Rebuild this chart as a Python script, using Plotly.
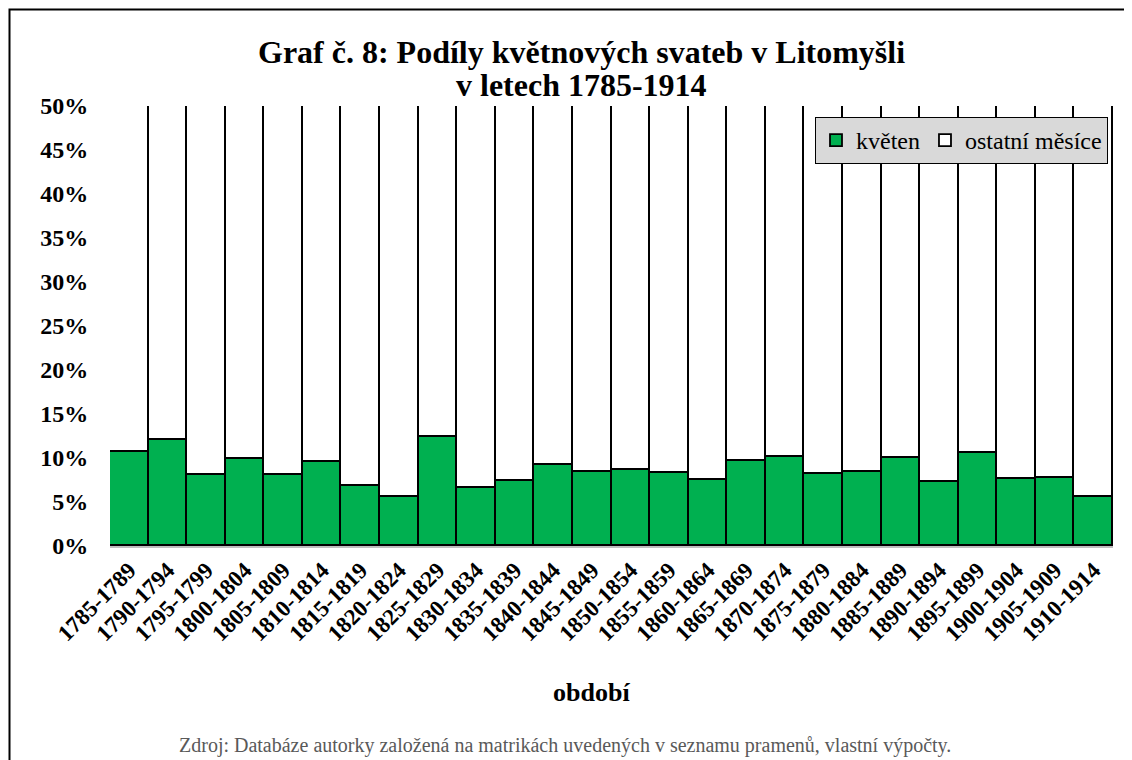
import plotly.graph_objects as go

periods = ["1785-1789", "1790-1794", "1795-1799", "1800-1804", "1805-1809", "1810-1814",
           "1815-1819", "1820-1824", "1825-1829", "1830-1834", "1835-1839", "1840-1844",
           "1845-1849", "1850-1854", "1855-1859", "1860-1864", "1865-1869", "1870-1874",
           "1875-1879", "1880-1884", "1885-1889", "1890-1894", "1895-1899", "1900-1904",
           "1905-1909", "1910-1914"]
kveten = [10.7, 12.0, 8.1, 9.9, 8.1, 9.5, 6.85, 5.55, 12.35, 6.55, 7.35, 9.25, 8.45,
          8.65, 8.35, 7.5, 9.7, 10.1, 8.2, 8.45, 10.0, 7.25, 10.55, 7.6, 7.75, 5.55]
ostatni = [89.3, 88.0, 91.9, 90.1, 91.9, 90.5, 93.15, 94.45, 87.65, 93.45, 92.65, 90.75, 91.55,
           91.35, 91.65, 92.5, 90.3, 89.9, 91.8, 91.55, 90.0, 92.75, 89.45, 92.4, 92.25, 94.45]
yticks = [0, 5, 10, 15, 20, 25, 30, 35, 40, 45, 50]

FONT = "Liberation Serif"
W, H = 1132, 760
# page is offset by the 8px body margin; positions below are in figure pixels
L, R, T, B = 102, 27, 98, 222
PW, PH = W - L - R, H - T - B

def px_x(x):
    return (x - L) / PW

def px_y(y):
    return (H - B - y) / PH

fig = go.Figure()
fig.add_trace(go.Bar(
    x=periods, y=kveten, name="květen",
    marker=dict(color="#00B050", line=dict(color="black", width=1.8)),
))
fig.add_trace(go.Bar(
    x=periods, y=ostatni, name="ostatní měsíce",
    marker=dict(color="white", line=dict(color="black", width=1.8)),
))

fig.update_layout(
    width=W, height=H,
    margin=dict(l=L, r=R, t=T, b=B),
    barmode="stack", bargap=0,
    paper_bgcolor="white", plot_bgcolor="white",
    font=dict(family=FONT, color="black"),
    showlegend=True,
    legend=dict(
        orientation="h", traceorder="normal",
        x=px_x(1100), xanchor="right",
        y=px_y(109), yanchor="top",
        bgcolor="#D9D9D9", bordercolor="black", borderwidth=1,
        font=dict(family=FONT, size=24, color="black"),
        itemwidth=30,
    ),
    xaxis=dict(
        type="category",
        tickangle=-45,
        tickfont=dict(family=FONT, size=23, color="black", weight="bold"),
        showline=True, linecolor="#BFBFBF", linewidth=1.5,
        ticks="", showgrid=False,
    ),
    yaxis=dict(
        range=[0, 50],
        tickmode="array", tickvals=yticks,
        ticktext=[f"{v}%" for v in yticks],
        tickfont=dict(family=FONT, size=24, color="black", weight="bold"),
        ticks="outside", ticklen=16, tickcolor="rgba(0,0,0,0)",
        showgrid=False, zeroline=False, showline=False,
    ),
    annotations=[
        dict(text="<b>Graf č. 8: Podíly květnových svateb v Litomyšli</b>",
             x=px_x(573), y=px_y(44), xref="paper", yref="paper",
             xanchor="center", yanchor="middle", showarrow=False,
             font=dict(family=FONT, size=32, color="black")),
        dict(text="<b>v letech 1785-1914</b>",
             x=px_x(573), y=px_y(77), xref="paper", yref="paper",
             xanchor="center", yanchor="middle", showarrow=False,
             font=dict(family=FONT, size=32, color="black")),
        dict(text="<b>období</b>", x=px_x(583), y=px_y(684), xref="paper", yref="paper",
             xanchor="center", yanchor="middle", showarrow=False,
             font=dict(family=FONT, size=26, color="black")),
        dict(text="Zdroj: Databáze autorky založená na matrikách uvedených v seznamu pramenů, vlastní výpočty.",
             x=px_x(557), y=px_y(737), xref="paper", yref="paper",
             xanchor="center", yanchor="middle", showarrow=False,
             font=dict(family=FONT, size=20, color="#595959")),
    ],
    shapes=[
        dict(type="rect", xref="paper", yref="paper",
             x0=px_x(1.5), x1=px_x(1200), y0=px_y(1.5), y1=px_y(850),
             line=dict(color="black", width=2), fillcolor="rgba(0,0,0,0)", layer="above"),
    ],
)

fig.write_html("out.html")
